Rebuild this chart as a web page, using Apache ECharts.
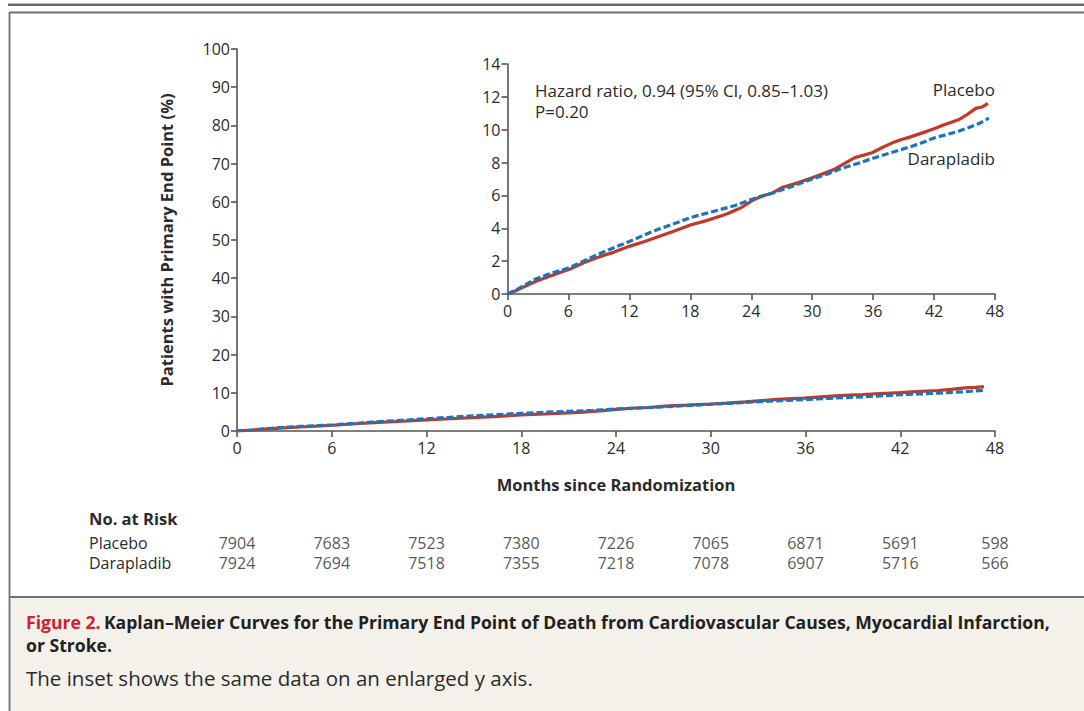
<!DOCTYPE html>
<html>
<head>
<meta charset="utf-8">
<script src="https://cdn.jsdelivr.net/npm/echarts@6/dist/echarts.min.js"></script>
<style>
  html, body { margin: 0; padding: 0; background: #ffffff; }
  #chart { width: 1084px; height: 711px; }
</style>
</head>
<body>
<div id="chart"></div>
<script>
// ---- Data ----
const monthTicks = [0, 6, 12, 18, 24, 30, 36, 42, 48];
const mainYTicks = [0, 10, 20, 30, 40, 50, 60, 70, 80, 90, 100];
const insetYTicks = [0, 2, 4, 6, 8, 10, 12, 14];

const placeboMonths = [0, 1, 2, 2.7, 4, 6.1, 7.5, 9, 10.5, 12, 13.5, 14.9, 16.5, 18, 19.5, 21, 21.7, 23, 24, 25, 26.1, 27.1, 28.5, 30, 31, 32.2, 33.2, 34.2, 35.9, 37, 37.9, 38.8, 39.6, 41.3, 42, 43, 44.4, 45.2, 46.1, 46.8, 47.3];
const placeboValues = [0, 0.25, 0.55, 0.75, 1.05, 1.5, 1.9, 2.25, 2.55, 2.9, 3.2, 3.5, 3.85, 4.2, 4.45, 4.75, 4.9, 5.25, 5.65, 5.95, 6.15, 6.5, 6.75, 7.07, 7.3, 7.6, 7.95, 8.3, 8.6, 8.95, 9.2, 9.4, 9.55, 9.9, 10.06, 10.3, 10.6, 10.9, 11.3, 11.4, 11.6];

const darapladibMonths = [0, 1, 2, 2.7, 4, 6.1, 7.3, 8.5, 10, 12, 13.5, 14.9, 16.5, 18, 19.5, 21, 22.5, 24, 25, 26.1, 28, 30, 31.5, 32.9, 34.5, 35.9, 37.5, 39.6, 41, 42, 43.2, 44.4, 45.5, 46.5, 47.4];
const darapladibValues = [0, 0.3, 0.65, 0.9, 1.2, 1.6, 1.95, 2.3, 2.7, 3.2, 3.6, 3.95, 4.3, 4.65, 4.9, 5.15, 5.4, 5.75, 5.95, 6.15, 6.55, 7.0, 7.3, 7.65, 7.95, 8.25, 8.55, 8.95, 9.25, 9.5, 9.7, 9.9, 10.15, 10.4, 10.7];

const riskGroups = ['Placebo', 'Darapladib'];
const placeboAtRisk = [7904, 7683, 7523, 7380, 7226, 7065, 6871, 5691, 598];
const darapladibAtRisk = [7924, 7694, 7518, 7355, 7218, 7078, 6907, 5716, 566];

// ---- Styling ----
const FONT = 'Open Sans';
const AXIS_COLOR = '#555555';
const TEXT_COLOR = '#2b2b2b';
const RED = '#c1392b';
const BLUE = '#1b75bb';
const TICK_FS = 16;

function pairs(xs, ys) { return xs.map((x, i) => [x, ys[i]]); }

function axisStyle(labelMargin) {
  return {
    axisLine: { show: true, lineStyle: { color: AXIS_COLOR, width: 1.6 } },
    axisTick: { show: true, inside: false, length: 6, lineStyle: { color: AXIS_COLOR, width: 1.6 } },
    splitLine: { show: false },
    axisLabel: { color: TEXT_COLOR, fontFamily: FONT, fontSize: TICK_FS, margin: labelMargin }
  };
}

const riskLabel = {
  show: true, position: 'inside', formatter: p => String(p.value[2]),
  color: TEXT_COLOR, fontFamily: FONT, fontSize: 16, lineHeight: 18
};

const chart = echarts.init(document.getElementById('chart'), null, { renderer: 'svg' });

const option = {
  backgroundColor: '#ffffff',
  animation: false,
  grid: [
    { left: 237, right: 89, top: 49, bottom: 280 },            // main
    { left: 507.5, right: 89, top: 64, bottom: 417 },          // inset
    { left: 237, right: 89, top: 533, height: 40 }             // risk table
  ],
  xAxis: [
    Object.assign({ type: 'value', gridIndex: 0, min: 0, max: 48, interval: 6,
      name: 'Months since Randomization', nameLocation: 'middle', nameGap: 45,
      nameTextStyle: { color: TEXT_COLOR, fontFamily: FONT, fontSize: 16.5, fontWeight: 'bold' }
    }, axisStyle(9)),
    Object.assign({ type: 'value', gridIndex: 1, min: 0, max: 48, interval: 6 }, axisStyle(9)),
    { type: 'value', gridIndex: 2, min: 0, max: 48, interval: 6, show: false }
  ],
  yAxis: [
    Object.assign({ type: 'value', gridIndex: 0, min: 0, max: 100, interval: 10,
      name: 'Patients with Primary End Point (%)', nameLocation: 'middle', nameGap: 62, nameRotate: 90,
      nameTextStyle: { color: TEXT_COLOR, fontFamily: FONT, fontSize: 16.5, fontWeight: 'bold' }
    }, axisStyle(7)),
    Object.assign({ type: 'value', gridIndex: 1, min: 0, max: 14, interval: 2 }, axisStyle(7)),
    { type: 'category', gridIndex: 2, data: riskGroups, inverse: true,
      axisLine: { show: false }, axisTick: { show: false }, splitLine: { show: false },
      axisLabel: { color: TEXT_COLOR, fontFamily: FONT, fontSize: 16, lineHeight: 18, align: 'left', margin: 148, interval: 0 } }
  ],
  series: [
    { type: 'line', name: 'Placebo', xAxisIndex: 0, yAxisIndex: 0, data: pairs(placeboMonths, placeboValues),
      showSymbol: false, lineStyle: { color: RED, width: 3.2 }, z: 3 },
    { type: 'line', name: 'Darapladib', xAxisIndex: 0, yAxisIndex: 0, data: pairs(darapladibMonths, darapladibValues),
      showSymbol: false, lineStyle: { color: BLUE, width: 3.2, type: [7, 3] }, z: 4 },
    { type: 'line', name: 'Placebo inset', xAxisIndex: 1, yAxisIndex: 1, data: pairs(placeboMonths, placeboValues),
      showSymbol: false, lineStyle: { color: RED, width: 3.2 }, z: 3 },
    { type: 'line', name: 'Darapladib inset', xAxisIndex: 1, yAxisIndex: 1, data: pairs(darapladibMonths, darapladibValues),
      showSymbol: false, lineStyle: { color: BLUE, width: 3.2, type: [7, 3] }, z: 4 },
    { type: 'scatter', xAxisIndex: 2, yAxisIndex: 2, symbolSize: 0,
      data: monthTicks.map((m, i) => [m, 0, placeboAtRisk[i]]), label: riskLabel },
    { type: 'scatter', xAxisIndex: 2, yAxisIndex: 2, symbolSize: 0,
      data: monthTicks.map((m, i) => [m, 1, darapladibAtRisk[i]]), label: riskLabel }
  ],
  graphic: [
    // top rule
    { type: 'rect', shape: { x: 8, y: 3.5, width: 1076, height: 2.5 }, style: { fill: '#6a6a6a' }, silent: true },
    // caption background
    { type: 'rect', shape: { x: 9, y: 597, width: 1075, height: 114 }, style: { fill: '#f4f1ea' }, silent: true },
    // frame lines
    { type: 'line', shape: { x1: 9, y1: 12.5, x2: 1084, y2: 12.5 }, style: { stroke: '#707070', lineWidth: 1.8 }, silent: true },
    { type: 'line', shape: { x1: 9.5, y1: 12, x2: 9.5, y2: 711 }, style: { stroke: '#707070', lineWidth: 1.8 }, silent: true },
    { type: 'line', shape: { x1: 9, y1: 597, x2: 1084, y2: 597 }, style: { stroke: '#707070', lineWidth: 1.8 }, silent: true },
    // inset annotations
    { type: 'text', left: 535, top: 82, style: { text: 'Hazard ratio, 0.94 (95% CI, 0.85\u20131.03)', fill: TEXT_COLOR, font: '17px "Open Sans"' } },
    { type: 'text', left: 535, top: 103, style: { text: 'P=0.20', fill: TEXT_COLOR, font: '17px "Open Sans"' } },
    { type: 'text', right: 89, top: 81, style: { text: 'Placebo', fill: TEXT_COLOR, font: '17px "Open Sans"', align: 'right' } },
    { type: 'text', right: 89, top: 150, style: { text: 'Darapladib', fill: TEXT_COLOR, font: '17px "Open Sans"', align: 'right' } },
    // risk table header
    { type: 'text', left: 89, top: 510, style: { text: 'No. at Risk', fill: TEXT_COLOR, font: 'bold 16.5px "Open Sans"' } },
    // caption
    { type: 'text', left: 26, top: 613, style: {
        text: '{r|Figure 2.} {b|Kaplan\u2013Meier Curves for the Primary End Point of Death from Cardiovascular Causes, Myocardial Infarction,}',
        rich: {
          r: { fill: '#d1202f', font: 'bold 17.6px "Open Sans"' },
          b: { fill: '#222222', font: 'bold 17.6px "Open Sans"' }
        } } },
    { type: 'text', left: 26, top: 636, style: { text: 'or Stroke.', fill: '#222222', font: 'bold 17.6px "Open Sans"' } },
    { type: 'text', left: 26, top: 667, style: { text: 'The inset shows the same data on an enlarged y axis.', fill: '#2b2b2b', font: '20.5px "Open Sans"' } }
  ]
};

chart.setOption(option);
</script>
</body>
</html>
